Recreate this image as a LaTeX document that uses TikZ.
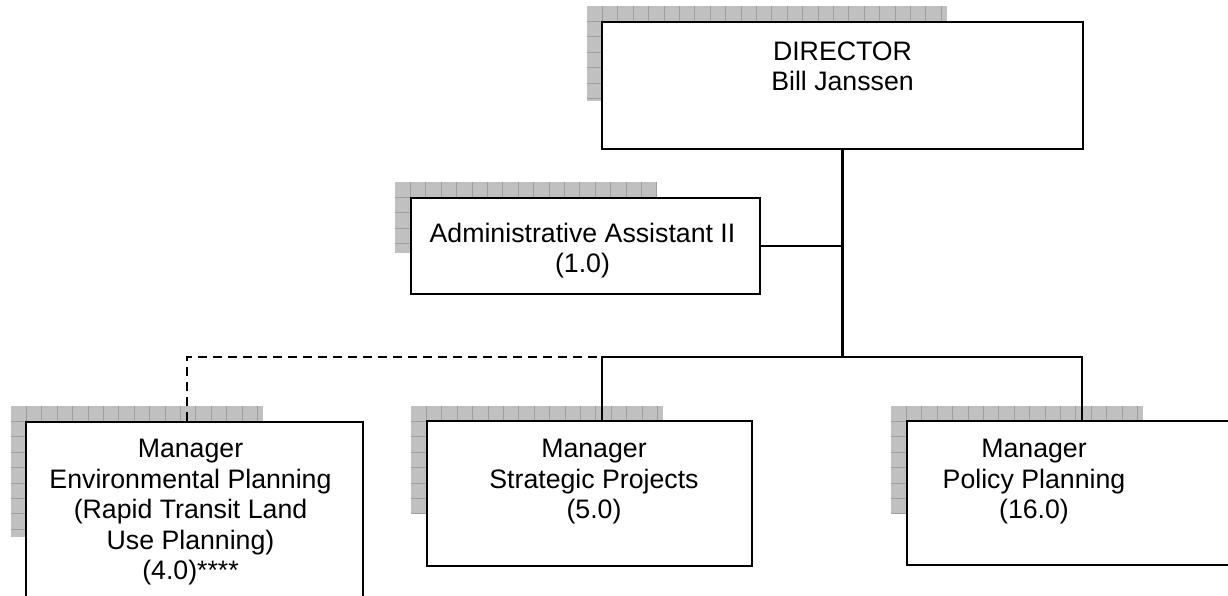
\documentclass[tikz,border=0pt]{standalone}
\usepackage{fontspec}
\setmainfont{Liberation Sans}
\begin{document}
\begin{tikzpicture}[x=1pt,y=-1pt,
  box/.style={draw=black,line width=2.6pt,fill=white,inner sep=0pt},
  label/.style={anchor=north,inner sep=0pt,align=center,font=\fontsize{26.7}{30.5}\selectfont},
  conn/.style={draw=black,line width=2.6pt},
  dashconn/.style={conn,dash pattern=on 9pt off 6pt},
  gridline/.style={draw=gray!75,line width=0.8pt}]
\definecolor{shadowgray}{RGB}{192,192,192}
\newcommand{\shgrid}[4]{%
  \fill[shadowgray] (#1,#2) rectangle (#3,#4);
  \begin{scope}
    \clip (#1,#2) rectangle (#3,#4);
    \foreach \i in {1,...,26}{%
      \draw[gridline] ({#1+15.4*\i},#2) -- ({#1+15.4*\i},#4);
      \draw[gridline] (#1,{#2+15.4*\i}) -- (#3,{#2+15.4*\i});
    }
  \end{scope}}
\clip (0,0) rectangle (1228,595);
\fill[white] (0,0) rectangle (1228,595);
% shadows
\shgrid{587}{6}{947}{101}
\shgrid{395}{182}{657}{253}
\shgrid{11}{406}{263}{537}
\shgrid{411}{406}{663}{513}
\shgrid{891}{406}{1143}{513}
% boxes
\node[box,minimum width=481pt,minimum height=127pt] (dir) at (842.5,85.5) {};
\node[box,minimum width=349pt,minimum height=96pt] (adm) at (585.5,246) {};
\node[box,minimum width=337pt,minimum height=218pt] (env) at (194.5,531) {};
\node[box,minimum width=325pt,minimum height=145pt] (strat) at (589.5,493.5) {};
\node[box,minimum width=350pt,minimum height=144pt] (pol) at (1082,493) {};
% texts
\node[label] (tdir) at (842.5,41.5) {DIRECTOR\\Bill Janssen};
\node[label] (tadm) at (582.5,222.5) {Administrative Assistant II\\(1.0)};
\node[label] (tenv) at (190.5,439) {Manager\\Environmental Planning\\(Rapid Transit Land\\Use Planning)\\(4.0)****};
\node[label] (tstrat) at (594,439) {Manager\\Strategic Projects\\(5.0)};
\node[label] (tpol) at (1034,439) {Manager\\Policy Planning\\(16.0)};
% connectors
\coordinate (bus) at (842.5,357);
\draw[conn] (dir.south) -- (bus);
\draw[conn] (adm.east) -- (adm.east -| bus);
\draw[conn] ([xshift=12.5pt]strat.north) |- (pol.north |- bus) -- (pol.north);
\draw[dashconn] ([xshift=-7.5pt]env.north) |- ([xshift=12.5pt]strat.north |- bus);
\end{tikzpicture}
\end{document}
